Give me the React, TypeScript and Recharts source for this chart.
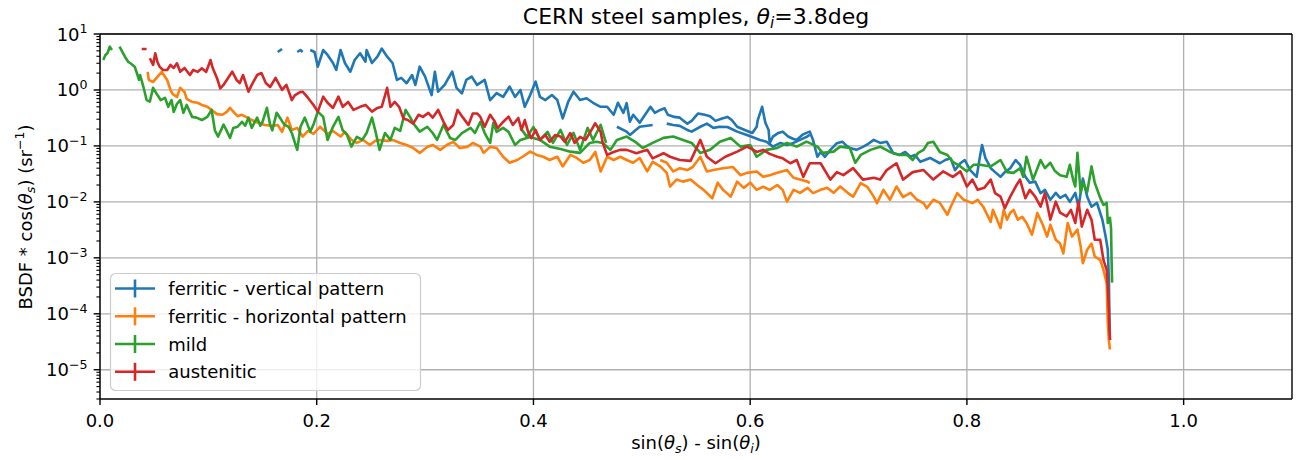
import { LineChart, Line, XAxis, YAxis, CartesianGrid, ReferenceLine } from "recharts";

type Pt = [number, number | null];

const BLUE = "#1f77b4";
const ORANGE = "#ff7f0e";
const GREEN = "#2ca02c";
const RED = "#d62728";
const FONT = "'DejaVu Sans', sans-serif";

const xTicks = [0, 0.2, 0.4, 0.6, 0.8, 1.0];
const yMajor = [1e-5, 1e-4, 1e-3, 1e-2, 1e-1, 1, 10];
const yMajorExp = [-5, -4, -3, -2, -1, 0, 1];
const yMinorDecades = [-6, -5, -4, -3, -2, -1, 0];
const yMinorMantissas = [2, 3, 4, 5, 6, 7, 8, 9];
const Y_MIN = 3e-6;
const Y_MAX = 10;

// ferritic - vertical pattern
const ferriticVertical: Pt[] = [
  [0.164, 4.77], [0.168, 5.4], [0.171, null],
  [0.182, 4.77], [0.185, 5.18], [0.187, 4.77], [0.19, null],
  [0.194, 5.18], [0.198, 4.77], [0.201, 2.61], [0.206, 5.18], [0.21, 4.22], [0.215, 3.03],
  [0.218, 2.28], [0.222, 5.18], [0.226, 3.03], [0.231, 2.12], [0.235, 3.43], [0.24, 4.52],
  [0.245, 3.2], [0.246, 5.18], [0.251, 3.03], [0.256, 3.93], [0.26, 5.5], [0.265, 3.93],
  [0.27, 3.03], [0.274, 1.51], [0.278, 1.64], [0.283, 1.32], [0.288, 1.85], [0.291, 1.23],
  [0.295, 2.61], [0.3, 1.73], [0.306, 0.81], [0.309, 2.12], [0.312, 0.93], [0.318, 1.23],
  [0.325, 2.12], [0.329, 1.09], [0.334, 0.87], [0.338, 1.51], [0.343, 1.73], [0.348, 1.23],
  [0.355, 1.51], [0.36, 0.66], [0.366, 0.88], [0.372, 0.75], [0.378, 1.15], [0.383, 0.75],
  [0.388, 1.0], [0.392, 0.5], [0.397, 0.81], [0.402, 1.41], [0.406, 0.75], [0.411, 0.66],
  [0.417, 0.81], [0.422, 0.66], [0.427, 0.31], [0.432, 0.61], [0.437, 0.93], [0.443, 0.66],
  [0.449, 0.71], [0.455, 0.59], [0.462, 0.5], [0.468, 0.5], [0.474, 0.36], [0.478, 0.59],
  [0.483, 0.39], [0.486, 0.58], [0.489, 0.27], [0.492, 0.36], [0.498, 0.26], [0.503, 0.36],
  [0.508, 0.5], [0.512, 0.39], [0.517, 0.44], [0.521, 0.47], [0.524, 0.36], [0.53, 0.33],
  [0.535, 0.32], [0.542, 0.25], [0.546, 0.28], [0.552, 0.38], [0.558, 0.36], [0.563, 0.34],
  [0.568, 0.28], [0.574, 0.31], [0.579, 0.33], [0.583, 0.29], [0.588, 0.22], [0.595, 0.193],
  [0.602, 0.17], [0.606, 0.22], [0.607, 0.29], [0.611, 0.5], [0.614, 0.26], [0.617, 0.193],
  [0.618, 0.112], [0.621, 0.147], [0.626, 0.171], [0.63, 0.18], [0.635, 0.147], [0.64, 0.133],
  [0.643, 0.128], [0.648, 0.157], [0.652, 0.171], [0.655, 0.18], [0.658, 0.128], [0.662, 0.064],
  [0.665, 0.078], [0.669, 0.064], [0.674, 0.085], [0.68, 0.112], [0.685, 0.119], [0.689, 0.1],
  [0.692, 0.092], [0.698, 0.085], [0.704, 0.096], [0.709, 0.109], [0.714, 0.128], [0.72, 0.113],
  [0.726, 0.119], [0.732, 0.074], [0.738, 0.069], [0.743, 0.078], [0.748, 0.064], [0.752, 0.069],
  [0.757, 0.052], [0.766, 0.061], [0.775, 0.049], [0.78, 0.056], [0.785, 0.06], [0.789, 0.037],
  [0.794, 0.049], [0.798, 0.056], [0.803, 0.037], [0.809, 0.028], [0.812, 0.064], [0.814, 0.104],
  [0.817, 0.061], [0.822, 0.04], [0.826, 0.034], [0.831, 0.028], [0.835, 0.034], [0.84, 0.04],
  [0.845, 0.056], [0.849, 0.046], [0.854, 0.028], [0.858, 0.022], [0.863, 0.023], [0.868, 0.0143],
  [0.872, 0.0164], [0.877, 0.0109], [0.882, 0.0145], [0.886, 0.0118], [0.891, 0.0133], [0.895, 0.01],
  [0.9, 0.0145], [0.903, 0.0082], [0.907, 0.026], [0.911, 0.0124], [0.915, 0.0082], [0.92, 0.0096],
  [0.925, 0.0048], [0.928, 0.0024], [0.93, 0.0014], [0.931, 0.00041], [0.9315, 0.000089],
  [0.932, 0.000034],
];

// second scan of the vertical-pattern sample (lower trace)
const ferriticVerticalLower: Pt[] = [
  [0.477, 0.22], [0.486, 0.18], [0.489, 0.157], [0.498, 0.22], [0.51, 0.237], [0.516, null],
  [0.523, 0.25], [0.529, 0.237], [0.535, 0.228], [0.542, 0.193], [0.546, 0.18], [0.554, 0.22],
  [0.56, 0.25], [0.566, 0.21], [0.572, 0.22], [0.579, 0.218], [0.588, 0.18], [0.597, 0.157],
  [0.605, 0.137], [0.609, 0.128], [0.615, 0.119], [0.621, 0.097], [0.628, 0.113], [0.634, 0.104],
  [0.64, 0.113], [0.646, 0.128], [0.652, 0.145], [0.655, 0.157],
];

// ferritic - horizontal pattern
const ferriticHorizontal: Pt[] = [
  [0.044, 2.1], [0.045, 1.51], [0.049, 1.39], [0.053, 1.71], [0.057, 2.1], [0.062, 1.51],
  [0.065, 1.0], [0.067, 0.85], [0.071, 0.75], [0.074, 1.09], [0.078, 0.92], [0.08, 0.69],
  [0.085, 0.61], [0.09, 0.59], [0.094, 0.54], [0.099, 0.5], [0.103, 0.44], [0.108, 0.37],
  [0.113, 0.36], [0.117, 0.405], [0.12, 0.477], [0.124, 0.39], [0.127, 0.34], [0.131, 0.36],
  [0.136, 0.32], [0.14, 0.29], [0.146, 0.26], [0.152, 0.237], [0.159, 0.228], [0.164, 0.237],
  [0.168, 0.178], [0.173, 0.32], [0.177, 0.193], [0.182, 0.21], [0.187, 0.147], [0.192, 0.185],
  [0.197, 0.164], [0.203, 0.22], [0.21, 0.164], [0.215, 0.185], [0.222, 0.147], [0.226, 0.178],
  [0.232, 0.128], [0.237, 0.113], [0.243, 0.128], [0.249, 0.104], [0.254, 0.123], [0.258, 0.128],
  [0.265, 0.123], [0.27, 0.128], [0.277, 0.113], [0.283, 0.104], [0.289, 0.092], [0.295, 0.075],
  [0.302, 0.096], [0.307, 0.104], [0.314, 0.085], [0.32, 0.104], [0.326, 0.118], [0.332, 0.092],
  [0.339, 0.096], [0.344, 0.113], [0.351, 0.097], [0.354, 0.075], [0.36, 0.096], [0.366, 0.092],
  [0.372, 0.064], [0.378, 0.05], [0.385, 0.056], [0.39, 0.064], [0.397, 0.079], [0.403, 0.069],
  [0.409, 0.064], [0.415, 0.056], [0.422, 0.064], [0.427, 0.043], [0.434, 0.069], [0.44, 0.061],
  [0.446, 0.05], [0.452, 0.056], [0.457, 0.078], [0.462, 0.035], [0.468, 0.064], [0.474, 0.056],
  [0.48, 0.064], [0.486, 0.056], [0.492, 0.05], [0.498, 0.061], [0.505, 0.035], [0.51, 0.052],
  [0.517, 0.043], [0.523, 0.033], [0.526, 0.0188], [0.532, 0.025], [0.538, 0.023], [0.545, 0.025],
  [0.551, 0.02], [0.557, 0.0164], [0.565, 0.0116], [0.57, 0.022], [0.575, 0.0164], [0.582, 0.0124],
  [0.588, 0.023], [0.594, 0.0178], [0.6, 0.022], [0.606, 0.0164], [0.612, 0.0186], [0.618, 0.0164],
  [0.625, 0.02], [0.63, 0.0164], [0.634, 0.0101], [0.64, 0.0164], [0.646, 0.0145], [0.653, 0.0178],
  [0.658, 0.0143], [0.665, 0.0164], [0.671, 0.0178], [0.677, 0.0145], [0.683, 0.0188], [0.69, 0.0145],
  [0.695, 0.0124], [0.702, 0.0216], [0.708, 0.0186], [0.714, 0.0124], [0.717, 0.0095], [0.723, 0.0164],
  [0.729, 0.0109], [0.735, 0.0188], [0.741, 0.0122], [0.748, 0.0145], [0.754, 0.0109], [0.76, 0.0095],
  [0.763, 0.0077], [0.769, 0.0109], [0.775, 0.0096], [0.782, 0.0059], [0.785, 0.0081], [0.791, 0.0143],
  [0.797, 0.0109], [0.805, 0.0095], [0.81, 0.0109], [0.815, 0.0082], [0.822, 0.0044], [0.824, 0.0072],
  [0.831, 0.0034], [0.834, 0.0072], [0.837, 0.0048], [0.84, 0.0064], [0.843, 0.0072], [0.847, 0.0048],
  [0.851, 0.0054], [0.855, 0.0042], [0.86, 0.0026], [0.865, 0.0063], [0.87, 0.0039], [0.874, 0.0024],
  [0.877, 0.0039], [0.882, 0.0021], [0.886, 0.0018], [0.889, 0.0012], [0.893, 0.0042], [0.897, 0.0024],
  [0.902, 0.0032], [0.905, 0.0016], [0.907, 0.0008], [0.911, 0.0014], [0.915, 0.0018], [0.918, 0.00105],
  [0.923, 0.00092], [0.926, 0.00061], [0.929, 0.00035], [0.93, 0.000069], [0.931, 0.000034],
  [0.932, 0.000023],
];

// second scan of the horizontal-pattern sample (upper trace)
const ferriticHorizontalUpper: Pt[] = [
  [0.517, 0.056], [0.523, 0.05], [0.529, 0.035], [0.535, 0.04], [0.542, 0.037], [0.547, 0.042],
  [0.554, 0.064], [0.56, 0.035], [0.566, 0.037], [0.575, 0.04], [0.584, 0.042], [0.591, 0.03],
  [0.597, 0.033], [0.606, 0.035], [0.612, 0.028], [0.618, 0.03], [0.625, 0.033], [0.634, 0.037],
  [0.64, 0.027], [0.646, 0.025], [0.653, 0.023], [0.655, 0.0216],
];

// mild
const mild: Pt[] = [
  [0.003, 3.43], [0.005, 4.22], [0.007, 4.58], [0.009, 5.93], [0.011, 5.18], [0.014, null],
  [0.018, 5.93], [0.023, 3.93], [0.026, 3.2], [0.029, 2.91], [0.032, 2.61], [0.034, 2.01],
  [0.036, 1.51], [0.037, 1.85], [0.04, 1.15], [0.043, 0.66], [0.046, 0.62], [0.049, 1.09],
  [0.053, 0.81], [0.056, 0.66], [0.06, 0.72], [0.063, 0.5], [0.066, 0.66], [0.068, 0.405],
  [0.071, 0.56], [0.074, 0.66], [0.077, 0.39], [0.08, 0.54], [0.085, 0.33], [0.089, 0.32],
  [0.094, 0.29], [0.099, 0.33], [0.103, 0.44], [0.106, 0.19], [0.109, 0.147], [0.114, 0.24],
  [0.117, 0.185], [0.12, 0.139], [0.123, 0.21], [0.127, 0.22], [0.131, 0.27], [0.134, 0.23],
  [0.137, 0.32], [0.14, 0.21], [0.145, 0.32], [0.148, 0.23], [0.15, 0.27], [0.154, 0.48],
  [0.157, 0.24], [0.159, 0.19], [0.163, 0.39], [0.166, 0.32], [0.17, 0.24], [0.174, 0.22],
  [0.177, 0.17], [0.182, 0.085], [0.185, 0.22], [0.189, 0.32], [0.194, 0.18], [0.197, 0.24],
  [0.201, 0.41], [0.206, 0.33], [0.21, 0.128], [0.215, 0.22], [0.22, 0.33], [0.224, 0.19],
  [0.228, 0.157], [0.232, 0.097], [0.237, 0.145], [0.242, 0.128], [0.246, 0.17], [0.251, 0.32],
  [0.254, 0.19], [0.258, 0.085], [0.263, 0.17], [0.268, 0.128], [0.272, 0.21], [0.277, 0.185],
  [0.282, 0.44], [0.286, 0.33], [0.29, 0.24], [0.295, 0.18], [0.302, 0.22], [0.307, 0.17],
  [0.311, 0.128], [0.317, 0.24], [0.323, 0.139], [0.328, 0.128], [0.334, 0.17], [0.342, 0.21],
  [0.346, 0.17], [0.351, 0.27], [0.355, 0.17], [0.36, 0.113], [0.363, 0.26], [0.366, 0.178],
  [0.372, 0.21], [0.377, 0.178], [0.383, 0.104], [0.388, 0.128], [0.397, 0.145], [0.406, 0.128],
  [0.415, 0.097], [0.425, 0.088], [0.434, 0.079], [0.443, 0.075], [0.452, 0.113], [0.458, 0.119],
  [0.464, 0.113], [0.471, 0.085], [0.477, 0.128], [0.486, 0.147], [0.494, 0.118], [0.501, 0.092],
  [0.51, 0.113], [0.52, 0.139], [0.529, 0.147], [0.538, 0.128], [0.546, 0.113], [0.554, 0.075],
  [0.563, 0.085], [0.572, 0.119], [0.582, 0.139], [0.591, 0.097], [0.6, 0.104], [0.606, 0.064],
  [0.615, 0.085], [0.625, 0.092], [0.634, 0.113], [0.643, 0.097], [0.652, 0.119], [0.662, 0.097],
  [0.667, 0.075], [0.677, 0.079], [0.683, 0.097], [0.692, 0.092], [0.697, 0.05], [0.702, 0.069],
  [0.711, 0.085], [0.72, 0.097], [0.729, 0.078], [0.738, 0.069], [0.745, 0.069], [0.75, 0.056],
  [0.755, 0.075], [0.76, 0.085], [0.764, 0.113], [0.769, 0.119], [0.775, 0.078], [0.782, 0.069],
  [0.787, 0.052], [0.794, 0.043], [0.8, 0.035], [0.806, 0.046], [0.812, 0.046], [0.822, 0.043],
  [0.831, 0.056], [0.837, 0.034], [0.843, 0.033], [0.849, 0.04], [0.852, 0.028], [0.855, 0.064],
  [0.858, 0.04], [0.861, 0.025], [0.868, 0.056], [0.872, 0.04], [0.877, 0.05], [0.881, 0.036],
  [0.886, 0.03], [0.892, 0.028], [0.895, 0.046], [0.898, 0.025], [0.9, 0.0188], [0.902, 0.075],
  [0.905, 0.0145], [0.907, 0.022], [0.911, 0.015], [0.915, 0.043], [0.918, 0.022], [0.923, 0.0118],
  [0.926, 0.0088], [0.929, 0.0096], [0.93, 0.0042], [0.932, 0.0052], [0.933, 0.0034],
  [0.9335, 0.00092], [0.934, 0.00036],
];

// overlapping second scan of the mild sample
const mildOverlap: Pt[] = [
  [0.388, 0.21], [0.394, 0.145], [0.4, 0.218], [0.406, 0.128], [0.413, 0.178], [0.418, 0.113],
  [0.425, 0.193], [0.431, 0.104], [0.437, 0.171], [0.443, 0.085], [0.45, 0.21], [0.455, 0.128],
  [0.462, 0.237], [0.467, 0.113],
];

// austenitic
const austenitic: Pt[] = [
  [0.0385, 5.4], [0.043, 5.4], [0.045, null],
  [0.046, 3.68], [0.049, 2.8], [0.051, 4.52], [0.053, 3.16], [0.055, 2.61], [0.058, 2.28],
  [0.062, 2.28], [0.065, 2.8], [0.068, 2.47], [0.071, 3.0], [0.074, 2.12], [0.078, 2.47],
  [0.083, 1.85], [0.086, 2.28], [0.09, 2.1], [0.094, 2.44], [0.098, 2.1], [0.102, 3.43],
  [0.104, 2.47], [0.108, 1.62], [0.111, 1.07], [0.114, 1.23], [0.118, 1.62], [0.122, 2.12],
  [0.126, 1.51], [0.129, 1.33], [0.132, 1.85], [0.137, 0.93], [0.14, 1.23], [0.145, 1.85],
  [0.149, 2.01], [0.153, 1.33], [0.157, 1.13], [0.162, 1.64], [0.168, 1.0], [0.172, 1.23],
  [0.177, 0.66], [0.18, 0.81], [0.185, 0.92], [0.187, 0.93], [0.192, 0.72], [0.197, 0.54],
  [0.201, 0.41], [0.206, 0.76], [0.21, 0.59], [0.215, 0.477], [0.22, 0.76], [0.224, 0.5],
  [0.229, 0.61], [0.234, 0.44], [0.24, 0.5], [0.245, 0.54], [0.251, 0.41], [0.256, 0.477],
  [0.26, 0.5], [0.265, 1.09], [0.268, 0.5], [0.272, 0.61], [0.276, 0.5], [0.28, 0.31],
  [0.284, 0.29], [0.289, 0.25], [0.294, 0.36], [0.298, 0.33], [0.303, 0.39], [0.307, 0.32],
  [0.312, 0.44], [0.317, 0.27], [0.321, 0.193], [0.326, 0.237], [0.33, 0.44], [0.335, 0.32],
  [0.34, 0.237], [0.344, 0.38], [0.348, 0.38], [0.351, 0.33], [0.355, 0.22], [0.36, 0.36],
  [0.364, 0.28], [0.367, 0.207], [0.372, 0.268], [0.377, 0.334], [0.381, 0.237], [0.386, 0.316],
  [0.389, 0.193], [0.392, 0.29], [0.395, 0.18], [0.398, 0.137], [0.402, 0.193], [0.406, 0.128],
  [0.411, 0.157], [0.415, 0.119], [0.42, 0.157], [0.425, 0.147], [0.429, 0.118], [0.434, 0.17],
  [0.438, 0.113], [0.443, 0.145], [0.448, 0.128], [0.452, 0.171], [0.457, 0.254], [0.462, 0.178],
  [0.464, 0.112], [0.468, 0.069], [0.474, 0.078], [0.48, 0.085], [0.486, 0.085], [0.495, 0.074],
  [0.505, 0.085], [0.51, 0.06], [0.52, 0.074], [0.526, 0.064], [0.535, 0.056], [0.545, 0.054],
  [0.554, 0.128], [0.56, 0.064], [0.568, 0.049], [0.577, 0.064], [0.588, 0.079], [0.597, 0.097],
  [0.6, 0.091], [0.606, 0.078], [0.612, 0.085], [0.618, 0.072], [0.625, 0.064], [0.63, 0.06],
  [0.637, 0.049], [0.643, 0.056], [0.649, 0.028], [0.655, 0.049], [0.665, 0.049], [0.674, 0.025],
  [0.68, 0.034], [0.686, 0.03], [0.695, 0.04], [0.704, 0.025], [0.714, 0.027], [0.72, 0.025],
  [0.726, 0.037], [0.735, 0.049], [0.741, 0.025], [0.75, 0.034], [0.76, 0.037], [0.769, 0.025],
  [0.778, 0.035], [0.787, 0.028], [0.794, 0.035], [0.8, 0.0188], [0.805, 0.025], [0.81, 0.0164],
  [0.816, 0.0178], [0.822, 0.025], [0.826, 0.0143], [0.831, 0.0124], [0.835, 0.0077], [0.84, 0.0124],
  [0.845, 0.0188], [0.849, 0.025], [0.854, 0.0116], [0.858, 0.0164], [0.863, 0.0124], [0.868, 0.0082],
  [0.872, 0.0143], [0.877, 0.0048], [0.882, 0.0101], [0.886, 0.0064], [0.892, 0.0055], [0.896, 0.0072],
  [0.9, 0.0042], [0.903, 0.0101], [0.906, 0.0036], [0.911, 0.0072], [0.915, 0.0048], [0.918, 0.0021],
  [0.923, 0.0021], [0.926, 0.00092], [0.929, 0.00061], [0.93, 0.00031], [0.931, 0.000118],
  [0.9315, 0.000052], [0.932, 0.000034],
];

const legendItems = [
  { name: "ferritic - vertical pattern", color: BLUE },
  { name: "ferritic - horizontal pattern", color: ORANGE },
  { name: "mild", color: GREEN },
  { name: "austenitic", color: RED },
];

const traces = [
  { id: "fv", pts: ferriticVertical, color: BLUE },
  { id: "fv2", pts: ferriticVerticalLower, color: BLUE },
  { id: "fh", pts: ferriticHorizontal, color: ORANGE },
  { id: "fh2", pts: ferriticHorizontalUpper, color: ORANGE },
  { id: "mi", pts: mild, color: GREEN },
  { id: "mi2", pts: mildOverlap, color: GREEN },
  { id: "au", pts: austenitic, color: RED },
];

const yMinor: number[] = [];
yMinorDecades.forEach((d) =>
  yMinorMantissas.forEach((m) => {
    const v = m * Math.pow(10, d);
    if (v >= Y_MIN * 0.999 && v <= Y_MAX) yMinor.push(v);
  }),
);
const yTicks = [...yMajor, ...yMinor].sort((a, b) => a - b);

const W = 1293;
const H = 452;

function YTick(props: any) {
  const { x, y, payload } = props;
  const idx = yMajor.indexOf(payload.value);
  if (idx < 0) {
    return <line x1={x - 3.6} x2={x} y1={y} y2={y} stroke="#000" strokeWidth={1.1} />;
  }
  const e = yMajorExp[idx];
  return (
    <g>
      <line x1={x - 6.3} x2={x} y1={y} y2={y} stroke="#000" strokeWidth={1.4} />
      <text x={x - 12.4} y={y + 6.5} textAnchor="end" fontSize={18} fill="#000" fontFamily={FONT}>
        10
        <tspan dy={-7.5} fontSize={12.6}>
          {e < 0 ? "\u2212" + Math.abs(e) : String(e)}
        </tspan>
      </text>
    </g>
  );
}

export default function App() {
  const rowY = [280.5, 308.3, 336, 363.8];
  return (
    <div style={{ position: "relative", width: W, height: H, fontFamily: FONT, background: "#fff" }}>
      <LineChart width={W} height={H} margin={{ top: 26, right: 9, bottom: 31, left: 32 }}>
        <CartesianGrid
          horizontalValues={yMajor}
          verticalValues={xTicks}
          stroke="#b0b0b0"
          strokeWidth={1.3}
        />
        <XAxis
          type="number"
          dataKey="x"
          domain={[0, 1.1]}
          ticks={xTicks}
          interval={0}
          allowDataOverflow
          height={30}
          tickFormatter={(v: number) => v.toFixed(1)}
          tick={{ fontSize: 18, fill: "#000", fontFamily: FONT }}
          tickSize={6}
          tickMargin={9}
          stroke="#000"
          strokeWidth={1.4}
        />
        <YAxis
          type="number"
          scale="log"
          domain={[Y_MIN, Y_MAX]}
          ticks={yTicks}
          interval={0}
          allowDataOverflow
          width={60}
          tickLine={false}
          tickSize={0}
          tickMargin={0}
          tick={<YTick />}
          stroke="#000"
          strokeWidth={1.4}
        />
        <ReferenceLine y={Y_MAX} stroke="#000" strokeWidth={1.4} />
        <ReferenceLine x={1.1} stroke="#000" strokeWidth={1.4} />
        {traces.map((t) => (
          <Line
            key={t.id}
            data={t.pts.map(([x, y]) => ({ x, y }))}
            dataKey="y"
            type="linear"
            stroke={t.color}
            strokeWidth={2.6}
            strokeLinejoin="round"
            dot={false}
            activeDot={false}
            connectNulls={false}
            isAnimationActive={false}
            legendType="none"
          />
        ))}
      </LineChart>

      <svg
        width={W}
        height={H}
        style={{ position: "absolute", left: 0, top: 0, overflow: "visible", pointerEvents: "none" }}
        fontFamily={FONT}
      >
        <text x={688} y={15.5} textAnchor="middle" fontSize={22} fill="#000">
          {"CERN steel samples, "}
          <tspan fontStyle="italic">θ</tspan>
          <tspan fontStyle="italic" fontSize={15.4} dy={4}>i</tspan>
          <tspan dy={-4}>=3.8deg</tspan>
        </text>

        <text x={688} y={441} textAnchor="middle" fontSize={18} fill="#000">
          {"sin("}
          <tspan fontStyle="italic">θ</tspan>
          <tspan fontStyle="italic" fontSize={12.6} dy={3.5}>s</tspan>
          <tspan dy={-3.5}>{") - sin("}</tspan>
          <tspan fontStyle="italic">θ</tspan>
          <tspan fontStyle="italic" fontSize={12.6} dy={3.5}>i</tspan>
          <tspan dy={-3.5}>)</tspan>
        </text>

        <text
          x={23.5}
          y={209}
          textAnchor="middle"
          fontSize={18}
          fill="#000"
          transform="rotate(-90 23.5 209)"
        >
          {"BSDF * cos("}
          <tspan fontStyle="italic">θ</tspan>
          <tspan fontStyle="italic" fontSize={12.6} dy={3.5}>s</tspan>
          <tspan dy={-3.5}>{") (sr"}</tspan>
          <tspan fontSize={12.6} dy={-7.5}>{"\u22121"}</tspan>
          <tspan dy={7.5}>)</tspan>
        </text>

        <rect
          x={102.5}
          y={265.5}
          width={310}
          height={117}
          rx={5}
          fill="#fff"
          fillOpacity={0.8}
          stroke="#cccccc"
          strokeWidth={1.2}
        />
        {legendItems.map((item, i) => (
          <g key={item.name}>
            <line x1={107} x2={147} y1={rowY[i]} y2={rowY[i]} stroke={item.color} strokeWidth={2.6} />
            <line x1={127} x2={127} y1={rowY[i] - 9} y2={rowY[i] + 9} stroke={item.color} strokeWidth={2.6} />
            <text x={160.3} y={rowY[i] + 6.5} fontSize={18} fill="#000">
              {item.name}
            </text>
          </g>
        ))}
      </svg>
    </div>
  );
}
